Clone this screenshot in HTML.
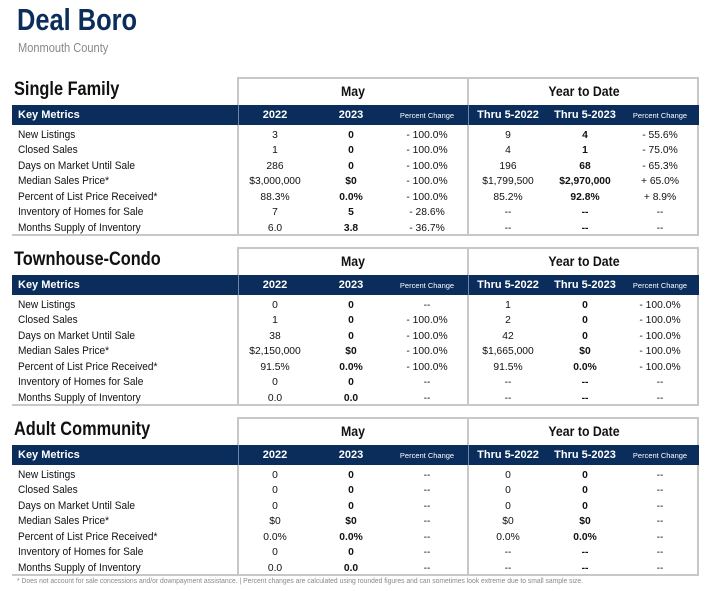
<!DOCTYPE html>
<html><head><meta charset="utf-8"><style>
body{margin:0;width:710px;height:591px;background:#fff;position:relative;overflow:hidden;font-family:"Liberation Sans",sans-serif;color:#111}
div{position:absolute;white-space:nowrap}
.c{transform:translateX(-50%)}
.nv{background:#0b2d5c}
.gl{background:#c8c8c8}
</style></head><body>
<div style="left:17px;top:2px;font-size:31px;font-weight:bold;color:#0b2d5c;transform:scaleX(0.82);transform-origin:left">Deal Boro</div>
<div style="left:18px;top:40px;font-size:13px;color:#888;transform:scaleX(0.85);transform-origin:left">Monmouth County</div>
<div id="root"></div>
<div style="left:17px;top:576px;font-size:7.5px;color:#888;transform:scaleX(0.9);transform-origin:left">* Does not account for sale concessions and/or downpayment assistance.  |  Percent changes are calculated using rounded figures and can sometimes look extreme due to small sample size.</div>
<script>
var labels=["New Listings","Closed Sales","Days on Market Until Sale","Median Sales Price*","Percent of List Price Received*","Inventory of Homes for Sale","Months Supply of Inventory"];
var S=[["Single Family",[["3","0","- 100.0%","9","4","- 55.6%"],["1","0","- 100.0%","4","1","- 75.0%"],["286","0","- 100.0%","196","68","- 65.3%"],["$3,000,000","$0","- 100.0%","$1,799,500","$2,970,000","+ 65.0%"],["88.3%","0.0%","- 100.0%","85.2%","92.8%","+ 8.9%"],["7","5","- 28.6%","--","--","--"],["6.0","3.8","- 36.7%","--","--","--"]]],
["Townhouse-Condo",[["0","0","--","1","0","- 100.0%"],["1","0","- 100.0%","2","0","- 100.0%"],["38","0","- 100.0%","42","0","- 100.0%"],["$2,150,000","$0","- 100.0%","$1,665,000","$0","- 100.0%"],["91.5%","0.0%","- 100.0%","91.5%","0.0%","- 100.0%"],["0","0","--","--","--","--"],["0.0","0.0","--","--","--","--"]]],
["Adult Community",[["0","0","--","0","0","--"],["0","0","--","0","0","--"],["0","0","--","0","0","--"],["$0","$0","--","$0","$0","--"],["0.0%","0.0%","--","0.0%","0.0%","--"],["0","0","--","--","--","--"],["0.0","0.0","--","--","--","--"]]]];
var cx=[275,351,427,508,585,660],h="";
S.forEach(function(s,i){var t=77+i*170;
h+='<div class="gl" style="left:237px;top:'+t+'px;width:462px;height:2px"></div>';
h+='<div class="gl" style="left:12px;top:'+(t+157)+'px;width:687px;height:2px"></div>';
[237,467,697].forEach(function(x){h+='<div class="gl" style="left:'+x+'px;top:'+t+'px;width:2px;height:158px"></div>'});
h+='<div style="left:14px;top:'+(t+2)+'px;font-size:19px;font-weight:bold;transform:scaleX(0.86);transform-origin:left">'+s[0]+'</div>';
h+='<div class="c" style="left:353px;top:'+(t+6)+'px;font-size:14px;font-weight:bold"><span style="display:inline-block;transform:scaleX(0.88)">May</span></div>';
h+='<div class="c" style="left:584px;top:'+(t+6)+'px;font-size:14px;font-weight:bold"><span style="display:inline-block;transform:scaleX(0.88)">Year to Date</span></div>';
h+='<div class="nv" style="left:12px;top:'+(t+28)+'px;width:687px;height:20px"></div>';
[238,468].forEach(function(x){h+='<div style="left:'+x+'px;top:'+(t+28)+'px;width:1px;height:20px;background:#6f86a8"></div>'});
h+='<div style="left:18px;top:'+(t+32)+'px;font-size:11px;font-weight:bold;color:#fff">Key Metrics</div>';
var hd=["2022","2023","Percent Change","Thru 5-2022","Thru 5-2023","Percent Change"];
hd.forEach(function(x,j){var pc=x=="Percent Change";h+='<div class="c" style="left:'+cx[j]+'px;top:'+(t+(pc?34:32))+'px;font-size:'+(pc?'7.5px':'11px')+';font-weight:'+(pc?'normal':'bold')+';color:#fff">'+x+'</div>'});
s[1].forEach(function(r,k){var y=t+51.5+k*15.5;
h+='<div style="left:18px;top:'+y+'px;font-size:11px;transform:scaleX(0.92);transform-origin:left">'+labels[k]+'</div>';
r.forEach(function(v,j){h+='<div class="c" style="left:'+cx[j]+'px;top:'+(y+1)+'px;font-size:10.3px;'+((j==1||j==4)?'font-weight:bold;':'')+'">'+v+'</div>'});});
});
document.getElementById('root').outerHTML=h;
</script>
</body></html>
